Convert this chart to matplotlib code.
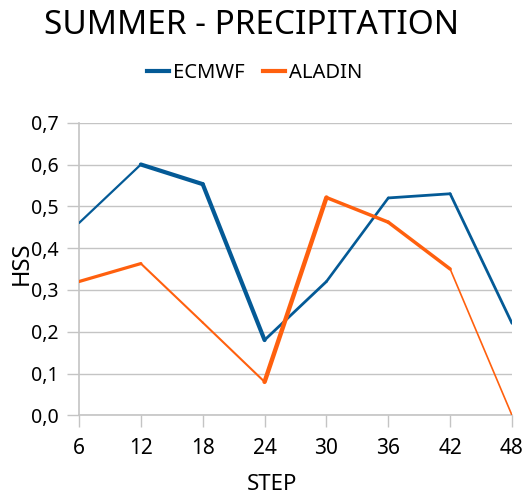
import matplotlib
matplotlib.use("Agg")
import matplotlib.pyplot as plt
from matplotlib.lines import Line2D

# data
steps = [6, 12, 18, 24, 30, 36, 42, 48]
ecmwf = [0.46, 0.60, 0.553, 0.18, 0.32, 0.52, 0.53, 0.22]
aladin = [0.32, 0.363, 0.222, 0.08, 0.521, 0.462, 0.35, 0.0]
yticks = [0.0, 0.1, 0.2, 0.3, 0.4, 0.5, 0.6, 0.7]

# segment widths vary in the original picture
ecmwf_lw = [1.6, 3.0, 3.0, 2.0, 1.9, 2.0, 2.0]
aladin_lw = [2.3, 1.5, 1.5, 3.2, 2.5, 2.5, 1.2]

blue = '#045a96'
orange = '#ff600e'
grid = '#c4c4c4'

plt.rcParams['font.family'] = ['Noto Sans', 'DejaVu Sans']

fig = plt.figure(figsize=(5.32, 4.97), dpi=100)
ax = fig.add_axes([79 / 532, 1 - 415.3 / 497, 433 / 532, 292.6 / 497])

for i in range(len(steps) - 1):
    ax.plot(steps[i:i + 2], ecmwf[i:i + 2], color=blue, lw=ecmwf_lw[i],
            solid_capstyle='round', solid_joinstyle='round', zorder=3)
for i in range(len(steps) - 1):
    ax.plot(steps[i:i + 2], aladin[i:i + 2], color=orange, lw=aladin_lw[i],
            solid_capstyle='round', solid_joinstyle='round', zorder=3)

ax.set_xlim(steps[0], steps[-1])
ax.set_ylim(0, 0.7)
ax.set_xticks(steps)
ax.set_xticklabels([str(s) for s in steps], fontsize=15)
ax.set_yticks(yticks)
ax.set_yticklabels([('%.1f' % v).replace('.', ',') for v in yticks], fontsize=14)

ax.grid(axis='y', color=grid, lw=1)
ax.set_axisbelow(True)
for s in ['top', 'right']:
    ax.spines[s].set_visible(False)
for s in ['left', 'bottom']:
    ax.spines[s].set_color(grid)
    ax.spines[s].set_linewidth(1.2)
ax.tick_params(axis='both', color=grid, length=8.5, width=1)
ax.tick_params(axis='y', pad=6)
ax.tick_params(axis='x', pad=8)

ax.set_xlabel('STEP', fontsize=16)
ax.xaxis.set_label_coords((271.7 - 79) / 433, -0.2)

fig.text(22 / 532, 1 - 263 / 497, 'HSS', rotation=90, ha='center', va='center', fontsize=17)

fig.text(252 / 532, 1 - 26 / 497, 'SUMMER - PRECIPITATION', ha='center', va='center', fontsize=24)

handles = [Line2D([], [], color=blue, lw=3), Line2D([], [], color=orange, lw=3)]
fig.legend(handles, ['ECMWF', 'ALADIN'], loc='center', bbox_to_anchor=(255 / 532, 1 - 72.7 / 497),
           ncol=2, frameon=False, fontsize=14.5, handlelength=1.1, handletextpad=0.2,
           columnspacing=0.9)

fig.savefig('out.png', dpi=100)
